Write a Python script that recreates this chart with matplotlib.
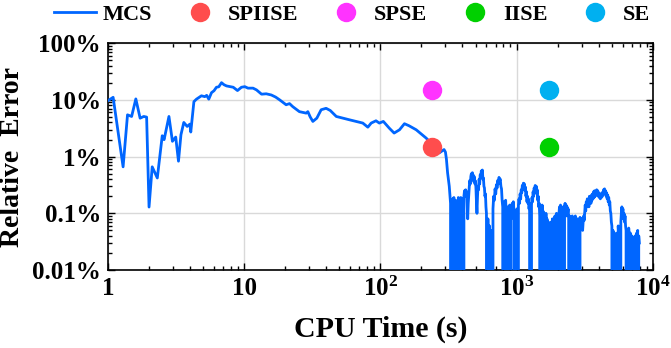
import numpy as np
import matplotlib
matplotlib.use("Agg")
import matplotlib.pyplot as plt
from matplotlib.ticker import FixedLocator, LogLocator, NullFormatter

plt.rcParams["font.family"] = "Liberation Serif"
plt.rcParams["font.weight"] = "bold"
plt.rcParams["mathtext.fontset"] = "custom"
plt.rcParams["mathtext.bf"] = "Liberation Serif:bold"
plt.rcParams["mathtext.rm"] = "Liberation Serif:bold"

# MCS relative error (%) vs CPU time (s); 0 = error crossed zero (below axis)
mcs_time_head = [1.0, 1.09, 1.29, 1.39, 1.49, 1.60, 1.72, 1.83, 1.92, 2.0,
                 2.11, 2.30, 2.50, 2.58, 2.80, 2.97, 3.14, 3.29, 3.43, 3.60,
                 3.81, 3.99, 4.05, 4.27, 4.46, 4.85, 5.13, 5.3, 5.49, 5.75,
                 6.0, 6.25, 6.5, 6.81, 7.1, 7.42, 7.8, 8.30, 8.92, 9.54,
                 10.1, 10.65, 11.6, 12.3, 13.4, 14.5, 15.8, 17.0, 18.2, 20.3,
                 21.5, 22.7, 25.4, 28.5, 29.3, 30.5, 31.9, 34.1, 36.7, 39.9,
                 42.8, 47.4, 53.0, 59.3, 66.3, 74.2, 80.8, 85.5, 92.7, 98.1,
                 105, 116, 126, 138, 150, 162, 183, 198, 216, 235,
                 254, 270, 293]
mcs_err_head = [9.7, 11.1, 0.66, 5.45, 5.1, 10.4, 4.76, 5.1, 4.97, 0.129,
                0.66, 0.42, 2.33, 1.99, 5.1, 1.86, 2.21, 0.83, 2.43, 4.0,
                3.4, 3.74, 2.71, 9.3, 10.3, 11.8, 11.4, 12.0, 10.3, 13.4,
                14.5, 16.7, 17.0, 20.1, 18.5, 17.6, 17.2, 16.7, 14.6, 16.7,
                17.1, 16.1, 16.1, 15.0, 12.6, 12.8, 12.2, 11.2, 10.0, 8.2,
                8.6, 7.6, 6.2, 5.84, 6.2, 5.0, 4.17, 4.76, 6.7, 7.1,
                6.5, 5.1, 4.76, 4.45, 4.17, 3.9, 3.3, 3.9, 4.28, 3.9,
                4.17, 3.18, 2.6, 2.97, 3.8, 3.5, 2.97, 2.53, 2.13, 1.74,
                1.24, 1.16, 1.33]

mcs_time_tail = [
    300, 305, 311, 316, 320, 324, 327,
    331, 334, 337, 340, 343, 346, 349, 352, 355, 358, 361, 364, 367, 370, 373, 376, 379, 382, 385, 389, 392, 396, 399, 403, 406, 410,
    414, 418, 422, 426, 430, 434, 437, 441, 445, 449, 453, 457, 461, 465, 469, 473, 477, 481, 485, 490,
    494, 499, 503, 507, 511, 516, 520, 525, 530, 535, 540, 545, 550, 555, 560, 565, 570, 575, 580, 585, 590, 595, 600,
    605, 615, 625, 632, 640, 650, 660,
    670, 678, 686, 694, 702, 710, 718, 726, 734, 742, 750, 758, 766, 774, 782, 790,
    795, 802, 809, 816, 823, 830, 837, 844, 851, 858, 866, 873, 880, 888, 896, 904, 912, 920, 928, 936,
    945, 953, 961, 969, 978, 986, 995, 1004, 1012, 1020, 1030,
    1040, 1050, 1060, 1070, 1080, 1090, 1100, 1110, 1120, 1130, 1140, 1150, 1160, 1170, 1180, 1190, 1200, 1210, 1220, 1232, 1244,
    1256, 1266, 1276,
    1285, 1296, 1308, 1320, 1332, 1344, 1356, 1368, 1380, 1392, 1404, 1416, 1428, 1440, 1452, 1464, 1476,
    1490, 1502, 1514, 1526, 1538, 1550, 1562, 1575, 1588, 1601, 1614, 1627, 1641, 1655, 1669, 1683, 1697, 1711, 1726, 1740,
    1755, 1770, 1785, 1800, 1815, 1831, 1846, 1862, 1878, 1894, 1910, 1926, 1943, 1960, 1977, 1994, 2011, 2028,
    2045, 2062, 2080, 2098, 2116, 2134, 2152, 2171, 2190, 2209, 2228, 2247, 2266, 2286, 2306, 2326, 2346, 2366, 2387, 2408,
    2429, 2450, 2471, 2493, 2515, 2537, 2559, 2581, 2604, 2627, 2650, 2673, 2697, 2721, 2745, 2769, 2793, 2818, 2843, 2868, 2893,
    2918, 2944, 2970, 2996, 3022, 3049, 3076, 3103, 3130, 3158,
    3186, 3214, 3243, 3272, 3300, 3330, 3360, 3390, 3420, 3450, 3480, 3510, 3540, 3572, 3604, 3636, 3668, 3700, 3733, 3766,
    3800, 3834, 3868, 3902, 3937, 3972, 4007, 4043, 4079, 4115, 4152, 4189, 4226, 4264, 4302, 4340, 4379, 4418, 4457, 4497,
    4537, 4577, 4618, 4659, 4700, 4742, 4784, 4827, 4870, 4913, 4957, 5001,
    5046, 5091, 5137, 5183, 5229, 5276, 5323, 5370, 5418, 5466, 5515, 5564, 5614, 5664, 5714, 5765,
    5816, 5868, 5920, 5973, 6026, 6080, 6135, 6190, 6245, 6301, 6357, 6414,
    6471, 6529, 6588, 6647, 6706, 6766, 6827, 6888, 6950, 7012, 7075, 7138, 7202, 7267, 7332, 7398, 7464, 7531, 7598, 7666,
    7734, 7803, 7873, 7943]
mcs_err_tail = [
    1.2, 0.9, 0.52, 0.38, 0.3, 0.2, 0.15,
    0, 0.16, 0, 0.18, 0, 0.19, 0, 0.17, 0.12, 0, 0.15, 0, 0.17, 0, 0.19, 0.14, 0, 0.17, 0, 0.19, 0, 0.16, 0, 0.18, 0, 0.2,
    0.25, 0.2, 0.26, 0.22, 0.24, 0.12, 0.08, 0.15, 0.22, 0.3, 0.38, 0.33, 0.45, 0.5, 0.42, 0.52, 0.4, 0.47, 0.36, 0.44,
    0.33, 0.37, 0.26, 0.15, 0.1, 0.2, 0.3, 0.26, 0.4, 0.33, 0.48, 0.42, 0.56, 0.45, 0.58, 0.4, 0.42, 0.3, 0.28, 0.2, 0.22, 0.13, 0.1,
    0, 0.08, 0, 0.06, 0, 0.05, 0,
    0.12, 0.2, 0.17, 0.27, 0.22, 0.32, 0.28, 0.38, 0.33, 0.43, 0.38, 0.4, 0.3, 0.27, 0.17, 0.13,
    0, 0.12, 0.16, 0, 0.14, 0.17, 0.11, 0, 0.13, 0.09, 0, 0.12, 0, 0.14, 0, 0.1, 0.08, 0.12, 0.15, 0.1,
    0.16, 0.12, 0, 0.1, 0, 0.09, 0, 0.12, 0.08, 0, 0.14,
    0.18, 0.15, 0.22, 0.18, 0.26, 0.23, 0.31, 0.27, 0.34, 0.29, 0.33, 0.25, 0.29, 0.2, 0.24, 0.16, 0.2, 0.15, 0.18, 0.12, 0.15,
    0, 0.11, 0,
    0.14, 0.19, 0.16, 0.24, 0.2, 0.28, 0.23, 0.31, 0.26, 0.3, 0.22, 0.26, 0.17, 0.2, 0.13, 0.15, 0.09,
    0, 0.13, 0.1, 0, 0.14, 0, 0.11, 0.07, 0, 0.09, 0.06, 0, 0.1, 0, 0.08, 0.06, 0, 0.07, 0, 0.06,
    0.045, 0, 0.07, 0, 0.06, 0.08, 0, 0.07, 0, 0.06, 0.09, 0, 0.08, 0.1, 0, 0.09, 0.07, 0,
    0.1, 0.13, 0.09, 0.14, 0.11, 0, 0.12, 0.08, 0.13, 0.1, 0, 0.12, 0.15, 0.1, 0.14, 0.09, 0.13, 0.1, 0.12, 0.08,
    0, 0.09, 0.07, 0, 0.08, 0, 0.09, 0.06, 0, 0.08, 0, 0.07, 0.09, 0, 0.06, 0, 0.08, 0.06, 0, 0.07, 0,
    0.085, 0.06, 0.08, 0.055, 0.075, 0.05, 0.07, 0.09, 0.075, 0.1,
    0.14, 0.11, 0.16, 0.13, 0.18, 0.14, 0.17, 0.13, 0.2, 0.16, 0.19, 0.15, 0.21, 0.17, 0.22, 0.18, 0.24, 0.19, 0.25, 0.2,
    0.24, 0.21, 0.26, 0.22, 0.25, 0.2, 0.23, 0.19, 0.22, 0.18, 0.21, 0.19, 0.23, 0.2, 0.22, 0.26, 0.22, 0.27, 0.22, 0.25,
    0.2, 0.23, 0.18, 0.21, 0.16, 0.19, 0.14, 0.16, 0.11, 0.1, 0.07, 0.06,
    0, 0.05, 0.035, 0, 0.045, 0, 0.04, 0.03, 0, 0.045, 0, 0.06, 0.04, 0, 0.05, 0,
    0.07, 0.1, 0.13, 0.09, 0.12, 0.08, 0.1, 0.07, 0.09, 0.06, 0.05, 0,
    0.05, 0.04, 0, 0.055, 0.035, 0, 0.045, 0.03, 0, 0.04, 0.028, 0, 0.035, 0.025, 0, 0.04, 0.03, 0, 0.045, 0.035,
    0.05, 0, 0.04, 0.03]

mcs_time = np.array(mcs_time_head + mcs_time_tail, dtype=float)
mcs_err = np.array(mcs_err_head + mcs_err_tail, dtype=float)

# other methods: (CPU time, relative error %)
methods = ["SPIISE", "SPSE", "IISE", "SE"]
method_time = [240, 240, 1740, 1740]
method_err = [1.5, 15, 1.5, 15]
method_colors = ["#FF4D4D", "#FF33FF", "#00D000", "#00B0F0"]

x_ticks = [1, 10, 100, 1000, 10000]
x_labels = ["1", "10", r"$\mathbf{10^2}$", r"$\mathbf{10^3}$", r"$\mathbf{10^4}$"]
y_ticks = [0.01, 0.1, 1, 10, 100]
y_labels = ["0.01%", "0.1%", "1%", "10%", "100%"]

fig = plt.figure(figsize=(6.71, 3.48), dpi=100)
ax = fig.add_axes([0.161, 0.224, 0.812, 0.652])

ax.plot(mcs_time, mcs_err, color="#0066FF", lw=2.0, label="MCS", zorder=3)
for name, t, e, c in zip(methods, method_time, method_err, method_colors):
    ax.plot(t, e, "o", color=c, markersize=14, markeredgewidth=0, label=name, zorder=4)

ax.set_xscale("log")
ax.set_yscale("log", nonpositive="clip")
ax.set_xlim(1, 10000)
ax.set_ylim(0.01, 100)

ax.xaxis.set_major_locator(FixedLocator(x_ticks))
ax.set_xticklabels(x_labels)
ax.yaxis.set_major_locator(FixedLocator(y_ticks))
ax.set_yticklabels(y_labels)
ax.xaxis.set_minor_locator(LogLocator(base=10, subs=np.arange(2, 10)))
ax.yaxis.set_minor_locator(LogLocator(base=10, subs=np.arange(2, 10)))
ax.xaxis.set_minor_formatter(NullFormatter())
ax.yaxis.set_minor_formatter(NullFormatter())

ax.tick_params(which="both", direction="in", top=True, right=True, width=1)
ax.tick_params(which="major", length=5, labelsize=18, pad=5)
ax.tick_params(which="minor", length=3)
for s in ax.spines.values():
    s.set_linewidth(1.2)

ax.grid(True, which="major", color="#D9D9D9", lw=1, zorder=0)
ax.set_axisbelow(True)

ax.set_xlabel("CPU Time (s)", fontsize=21.5, fontweight="bold", labelpad=10)
ax.set_ylabel("Relative  Error", fontsize=20, fontweight="bold", labelpad=5)

fig.legend(loc="center", bbox_to_anchor=(0.525, 0.958), ncol=5, frameon=False,
           fontsize=16, handlelength=1.9, handletextpad=0.3, columnspacing=1.2,
           borderaxespad=0)

fig.savefig("out.png", dpi=100)
